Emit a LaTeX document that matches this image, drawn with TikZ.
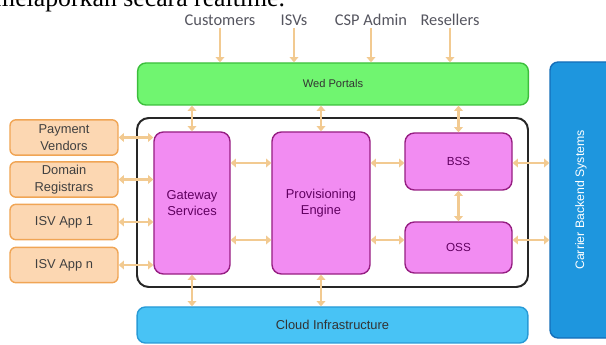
\documentclass[tikz,border=0pt]{standalone}
\usepackage{fontspec}
\setmainfont{Liberation Sans}
\newfontfamily\docfont{Liberation Serif}
\newfontfamily\userfont{Carlito}
\usetikzlibrary{arrows.meta,fit}

\definecolor{arrowtan}{RGB}{242,202,145}
\definecolor{peachfill}{RGB}{252,215,178}
\definecolor{peachline}{RGB}{240,165,85}
\definecolor{pinkfill}{RGB}{242,140,242}
\definecolor{pinkline}{RGB}{150,30,130}
\definecolor{greenfill}{RGB}{112,245,112}
\definecolor{greenline}{RGB}{60,190,60}
\definecolor{cloudfill}{RGB}{72,195,245}
\definecolor{cloudline}{RGB}{40,155,215}
\definecolor{carrierfill}{RGB}{30,150,222}
\definecolor{carrierline}{RGB}{20,110,185}
\definecolor{usergray}{RGB}{85,85,95}

\begin{document}
\begin{tikzpicture}[x=0.03cm,y=-0.03cm,
    box/.style={draw,rounded corners=5pt,inner sep=0pt,align=center,line width=1.2pt,
        font=\fontsize{11}{14}\selectfont},
    partner/.style={box,fill=peachfill,draw=peachline,text=black!75,
        minimum width=3.24cm,minimum height=1.06cm},
    core/.style={box,fill=pinkfill,draw=pinkline,text=violet!75!black,rounded corners=8pt},
    bar/.style={box,rounded corners=7pt,minimum width=11.72cm},
    link/.style={draw=arrowtan,line width=2.5pt,
        {Triangle[length=4.5pt,width=7.5pt]}-{Triangle[length=4.5pt,width=7.5pt]}},
    feed/.style={draw=arrowtan,line width=2.5pt,-{Triangle[length=4.5pt,width=7.5pt]}},
    user/.style={font=\userfont\fontsize{14}{16}\selectfont,text=usergray,inner sep=2pt}]
    \useasboundingbox (0,0) rectangle (606,345);
    \clip (0,0) rectangle (606,345);
    % cut-off line of the page above
    \node[anchor=base west,inner sep=0pt,font=\docfont\fontsize{22}{24}\selectfont] (doc) at (-5,7)
        {melaporkan secara realtime.};
    % users
    \node[user] (cust) at (220,20) {Customers};
    \node[user] (isvs) at (294,20) {ISVs};
    \node[user] (csp) at (371,20) {CSP Admin};
    \node[user] (resl) at (450,20) {Resellers};
    % portals, frame, cloud
    \node[bar,fill=greenfill,draw=greenline,minimum height=1.26cm,text=black!80,
        font=\fontsize{9.5}{11}\selectfont] (web) at (333,84) {Wed Portals};
    \node[draw=black!85,line width=1.7pt,rounded corners=10pt,inner sep=0pt,
        fit={(137,118) (528,287)}] (frame) {};
    \node[bar,fill=cloudfill,draw=cloudline,minimum height=1.08cm,text=black!80]
        (cloud) at (332.5,325) {Cloud Infrastructure};
    \node[box,fill=carrierfill,draw=carrierline,rounded corners=7pt,
        minimum width=2.1cm,minimum height=8.28cm] (car) at (585,200) {};
    \node[rotate=90,text=white,font=\fontsize{10.5}{12}\selectfont] (cartext) at (581,200)
        {Carrier Backend Systems};
    % partners on the left
    \node[partner] (pay) at (64,137.5) {Payment\\Vendors};
    \node[partner] (dom) at (64,179.5) {Domain\\Registrars};
    \node[partner] (isva) at (64,222) {ISV App 1};
    \node[partner] (isvb) at (64,265) {ISV App n};
    % core blocks
    \node[core,minimum width=2.28cm,minimum height=4.26cm] (gw) at (192,203) {Gateway\\Services};
    \node[core,minimum width=2.94cm,minimum height=4.26cm] (prov) at (321,203) {Provisioning\\Engine};
    \node[core,minimum width=3.21cm,minimum height=1.71cm,
        font=\fontsize{10}{12}\selectfont] (bss) at (458.5,161.5) {BSS};
    \node[core,minimum width=3.21cm,minimum height=1.53cm,
        font=\fontsize{10}{12}\selectfont] (oss) at (458.5,247.5) {OSS};
    % connectors
    \foreach \u in {cust,isvs,csp,resl}
        \draw[feed] (\u.south) -- (\u.south |- web.north);
    \foreach \b in {gw,prov,bss}
        \draw[link] (web.south -| \b) -- (\b.north);
    \foreach \b in {gw,prov}
        \draw[link] (\b.south) -- (\b.south |- cloud.north);
    \foreach \p in {pay,dom,isva,isvb}
        \draw[link] (\p.east) -- (\p.east -| gw.west);
    \coordinate (hi) at (0,163);
    \coordinate (lo) at (0,240);
    \foreach \c in {hi,lo}
        \draw[link] (gw.east |- \c) -- (prov.west |- \c);
    \draw[link] (prov.east |- hi) -- (bss.west |- hi);
    \draw[link] (prov.east |- lo) -- (oss.west |- lo);
    \draw[link] (bss.east |- hi) -- (car.west |- hi);
    \draw[link] (oss.east |- lo) -- (car.west |- lo);
    \draw[link] (bss.south) -- (oss.north);
\end{tikzpicture}
\end{document}
